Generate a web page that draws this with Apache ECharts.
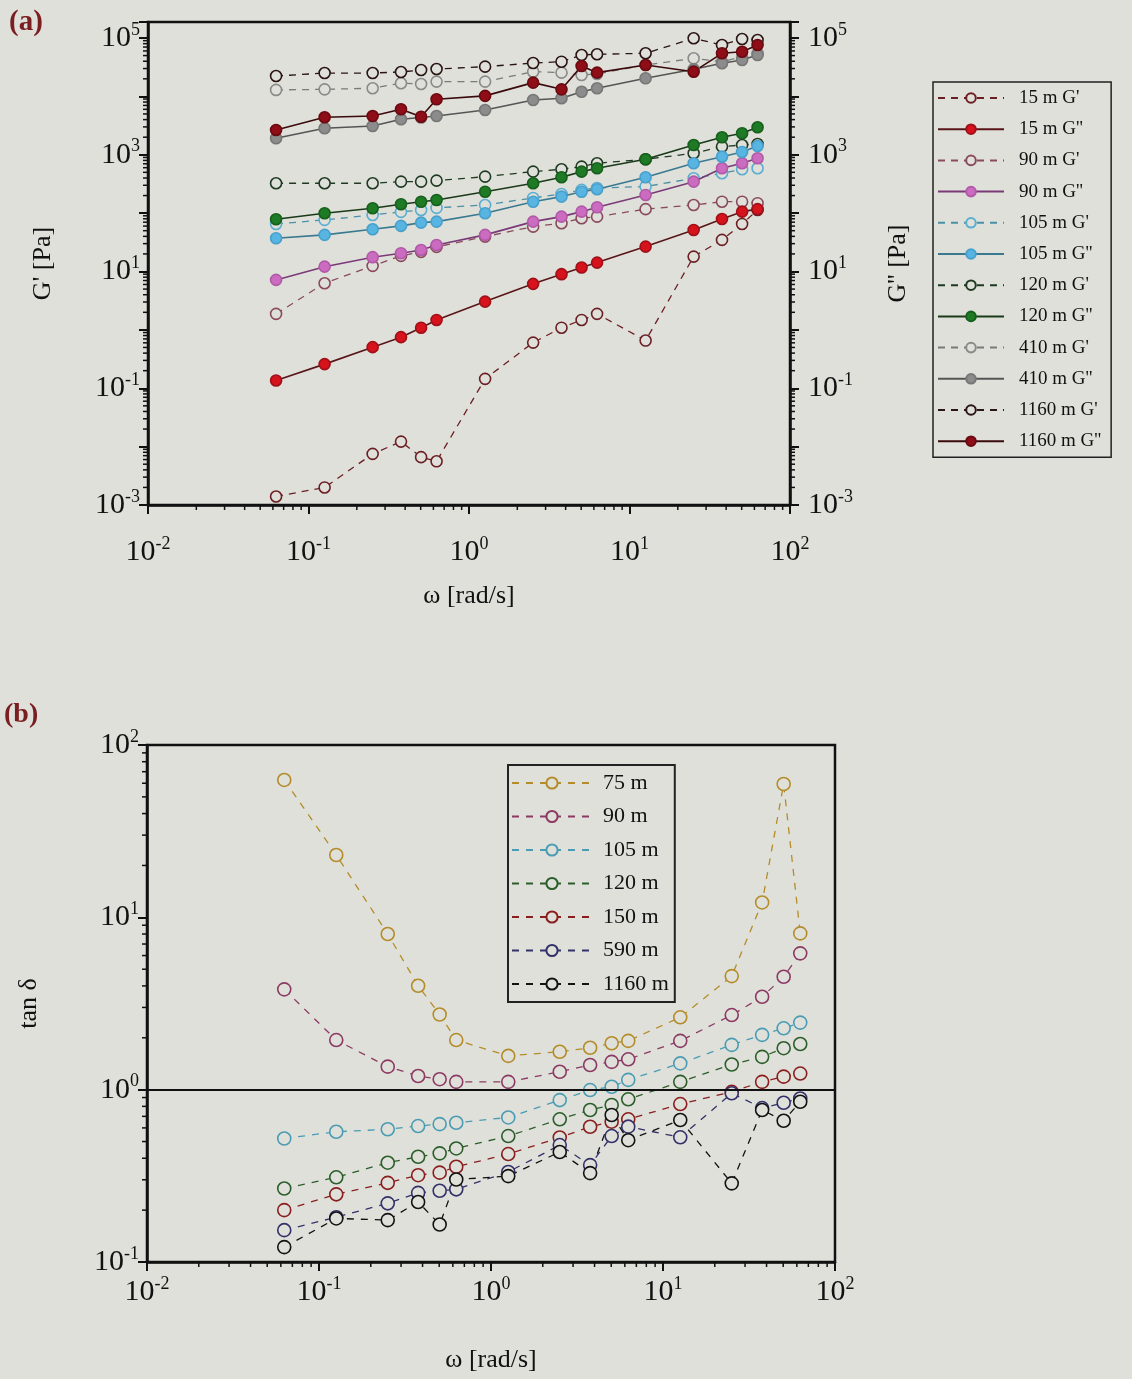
<!DOCTYPE html>
<html><head><meta charset="utf-8">
<script src="https://cdn.jsdelivr.net/npm/echarts@6/dist/echarts.min.js"></script>
<style>html,body{margin:0;padding:0;background:#dfe0d9}#c{width:1132px;height:1379px}</style>
</head><body><div id="c"></div>
<script>
// ---------- data ----------
const omega = [0.0628, 0.126, 0.251, 0.377, 0.503, 0.628, 1.26, 2.51, 3.77, 5.03, 6.28, 12.6, 25.1, 37.7, 50.3, 62.8];

// panel (a): G' and G'' [Pa]
const g15_Gp    = [0.0014, 0.0020, 0.0075, 0.0122, 0.0066, 0.0056, 0.145, 0.605, 1.09, 1.48, 1.88, 0.656, 18, 34.8, 65.3, 113];
const g15_Gpp   = [0.136, 0.259, 0.506, 0.75, 1.09, 1.48, 3.05, 6.14, 9.0, 11.7, 14.2, 26.7, 51.5, 79.4, 106, 117];
const g90_Gp    = [1.88, 6.3, 12.5, 18.5, 21.7, 26.4, 39.6, 58.7, 67.1, 81.8, 87.1, 117, 138, 157, 157, 148];
const g90_Gpp   = [7.18, 12.1, 17.6, 20.6, 23.4, 28.5, 42.4, 71.5, 87.1, 106, 126, 205, 346, 588, 715, 871];
const g105_Gp   = [65.3, 76.5, 93, 105, 113, 123, 138, 182, 213, 250, 270, 285, 396, 482, 565, 588];
const g105_Gpp  = [37.2, 42.4, 53, 60.4, 68.8, 71.5, 99.6, 157, 192, 233, 257, 412, 715, 927, 1117, 1415];
const g120_Gp   = [325, 325, 325, 346, 346, 360, 422, 514, 565, 625, 715, 837, 1060, 1380, 1470, 1530];
const g120_Gpp  = [78.7, 99.6, 121, 142, 157, 168, 233, 325, 412, 514, 588, 837, 1470, 1995, 2335, 2960];
const g410_Gp   = [12900, 13200, 13800, 16800, 16300, 17900, 17900, 26500, 25500, 23200, 24200, 34500, 44900, 39300, 47900, 54700];
const g410_Gpp  = [1920, 2850, 3110, 4050, 4350, 4620, 5850, 8670, 9270, 12000, 13800, 20400, 29100, 36900, 42000, 51200];
const g1160_Gp  = [22300, 25100, 25100, 26200, 28300, 29400, 32300, 37300, 39300, 51200, 52600, 54700, 98900, 75900, 96100, 92500];
const g1160_Gpp = [2660, 4390, 4620, 6010, 4490, 8910, 10200, 17200, 13200, 33200, 25500, 34500, 26500, 54700, 58200, 75900];

// panel (b): tan delta
const t75   = [62.7, 23.0, 8.0, 4.01, 2.73, 1.94, 1.57, 1.66, 1.75, 1.86, 1.92, 2.63, 4.56, 12.2, 59.4, 8.07];
const t90   = [3.82, 1.94, 1.36, 1.20, 1.15, 1.11, 1.11, 1.27, 1.39, 1.45, 1.50, 1.92, 2.71, 3.46, 4.52, 6.18];
const t105  = [0.521, 0.570, 0.589, 0.615, 0.631, 0.643, 0.690, 0.870, 0.995, 1.04, 1.14, 1.42, 1.82, 2.08, 2.27, 2.45];
const t120  = [0.267, 0.310, 0.377, 0.408, 0.427, 0.456, 0.538, 0.673, 0.762, 0.815, 0.879, 1.11, 1.40, 1.55, 1.74, 1.84];
const t150  = [0.200, 0.247, 0.288, 0.319, 0.330, 0.357, 0.423, 0.528, 0.609, 0.652, 0.673, 0.825, 0.972, 1.11, 1.19, 1.24];
const t590  = [0.153, 0.182, 0.219, 0.252, 0.259, 0.264, 0.333, 0.477, 0.365, 0.538, 0.610, 0.529, 0.953, 0.782, 0.840, 0.889];
const t1160 = [0.122, 0.179, 0.175, 0.223, 0.165, 0.301, 0.315, 0.435, 0.328, 0.713, 0.509, 0.667, 0.286, 0.762, 0.660, 0.851];

const namesA = ["15 m G'", "15 m G''", "90 m G'", "90 m G''", "105 m G'", "105 m G''", "120 m G'", "120 m G''", "410 m G'", "410 m G''", "1160 m G'", "1160 m G''"];
const namesB = ["75 m", "90 m", "105 m", "120 m", "150 m", "590 m", "1160 m"];

// ---------- styling ----------
const BG = '#dfe0d9';
const FONT = '"Liberation Serif", "Times New Roman", serif';
const INK = '#111';
const xMinA = 0.01, xMaxA = 100, yMinA = 0.001, yMaxA = 188000;
const xMinB = 0.01, xMaxB = 100, yMinB = 0.1, yMaxB = 100;

function zip(ys) { return omega.map((w, i) => [w, ys[i]]); }

function powLabel(skipEven) {
  return function (v) {
    const l = Math.log10(v), e = Math.round(l);
    if (Math.abs(l - e) > 1e-6) return '';
    if (skipEven && e % 2 === 0) return '';
    return '{b|10}{s|' + e + '}';
  };
}
const rich = {
  b: { fontFamily: FONT, fontSize: 30, color: INK },
  s: { fontFamily: FONT, fontSize: 18, color: INK, padding: [0, 0, 16, 0] }
};

function minorData(lo, hi, kind, fixed) {
  const out = [];
  for (let k = Math.floor(Math.log10(lo)); k <= Math.ceil(Math.log10(hi)); k++) {
    for (let m = 2; m <= 9; m++) {
      const v = m * Math.pow(10, k);
      if (v > lo && v < hi) out.push(kind === 0 ? [v, fixed, 0] : [fixed, v, kind]);
    }
  }
  return out;
}
function tickRender(params, api) {
  const cs = params.coordSys;
  const kind = api.value(2);
  const p = api.coord([api.value(0), api.value(1)]);
  const L = 5;
  let shape;
  if (kind === 0) shape = { x1: p[0], y1: cs.y + cs.height, x2: p[0], y2: cs.y + cs.height + L };
  else if (kind === 1) shape = { x1: cs.x - L, y1: p[1], x2: cs.x, y2: p[1] };
  else shape = { x1: cs.x + cs.width, y1: p[1], x2: cs.x + cs.width + L, y2: p[1] };
  return { type: 'line', shape: shape, style: { stroke: INK, lineWidth: 1.5 } };
}

// series definitions for panel (a)
const aSpec = [
  [g15_Gp,    false, '#6b1f24', '#6b1f24', null],
  [g15_Gpp,   true,  '#5a1518', '#a01018', '#d6121c'],
  [g90_Gp,    false, '#8a4a5e', '#8a4a5e', null],
  [g90_Gpp,   true,  '#7a3a78', '#b05aa8', '#cc6cc0'],
  [g105_Gp,   false, '#4a90a8', '#5aaed0', null],
  [g105_Gpp,  true,  '#3a7a90', '#48a0cc', '#58b4e0'],
  [g120_Gp,   false, '#1e3a22', '#1e3a22', null],
  [g120_Gpp,  true,  '#1a3a1a', '#16601c', '#1f7a25'],
  [g410_Gp,   false, '#7a7a7a', '#8a8a8a', null],
  [g410_Gpp,  true,  '#555555', '#777777', '#8c8c8c'],
  [g1160_Gp,  false, '#2a1414', '#2a1414', null],
  [g1160_Gpp, true,  '#3a0a0c', '#6a0a10', '#8e0d16']
];
const bSpec = [
  [t75, '#b58c2a'], [t90, '#8c3a64'], [t105, '#4a9cb4'], [t120, '#2b5e2b'],
  [t150, '#8a1e1e'], [t590, '#33306a'], [t1160, '#121212']
];

const series = [];
aSpec.forEach((s, i) => {
  const [ys, filled, lc, bc, fc] = s;
  series.push({
    name: namesA[i], type: 'line', xAxisIndex: 0, yAxisIndex: 0,
    data: zip(ys), symbol: 'circle', symbolSize: 11,
    lineStyle: { color: lc, width: filled ? 1.6 : 1.3, type: filled ? 'solid' : [7, 6] },
    itemStyle: { color: filled ? fc : BG, borderColor: bc, borderWidth: 1.6 },
    z: filled ? 3 : 2
  });
});
bSpec.forEach((s, i) => {
  const [ys, c] = s;
  const ser = {
    name: namesB[i], type: 'line', xAxisIndex: 1, yAxisIndex: 2,
    data: zip(ys), symbol: 'circle', symbolSize: 13,
    lineStyle: { color: c, width: 1.3, type: [7, 7] },
    itemStyle: { color: BG, borderColor: c, borderWidth: 1.6 },
    z: 3
  };
  if (i === 0) {
    ser.markLine = {
      silent: true, symbol: ['none', 'none'], label: { show: false },
      lineStyle: { color: INK, width: 2, type: 'solid' },
      data: [{ yAxis: 1 }]
    };
  }
  series.push(ser);
});
// minor log ticks
series.push({ type: 'custom', xAxisIndex: 0, yAxisIndex: 0, silent: true, clip: false, z: 5,
  renderItem: tickRender,
  data: minorData(xMinA, xMaxA, 0, yMinA).concat(minorData(yMinA, yMaxA, 1, xMinA), minorData(yMinA, yMaxA, 2, xMinA)) });
series.push({ type: 'custom', xAxisIndex: 1, yAxisIndex: 2, silent: true, clip: false, z: 5,
  renderItem: tickRender,
  data: minorData(xMinB, xMaxB, 0, yMinB).concat(minorData(yMinB, yMaxB, 1, xMinB)) });

const axisLine = { show: true, lineStyle: { color: INK, width: 2.5 } };
const axisTick = { show: true, length: 9, lineStyle: { color: INK, width: 2 } };
const nameStyle = { fontFamily: FONT, fontSize: 26, color: INK };

const option = {
  backgroundColor: BG,
  animation: false,
  graphic: [
    { type: 'text', left: 9, top: 8, style: { text: '(a)', font: 'bold 29px ' + FONT, fill: '#7a1e22' } },
    { type: 'text', left: 4, top: 701, style: { text: '(b)', font: 'bold 28px ' + FONT, fill: '#7a1e22' } }
  ],
  grid: [
    { left: 148, top: 22, width: 642, height: 483, show: true, borderColor: INK, borderWidth: 2.5, backgroundColor: 'transparent' },
    { left: 147, top: 745, width: 688, height: 517, show: true, borderColor: INK, borderWidth: 2.5, backgroundColor: 'transparent' }
  ],
  xAxis: [
    { type: 'log', logBase: 10, gridIndex: 0, min: xMinA, max: xMaxA, interval: 1,
      axisLine, axisTick, splitLine: { show: false },
      axisLabel: { formatter: powLabel(false), rich, margin: 30, interval: 0 },
      name: 'ω [rad/s]', nameLocation: 'middle', nameGap: 78, nameTextStyle: nameStyle },
    { type: 'log', logBase: 10, gridIndex: 1, min: xMinB, max: xMaxB, interval: 1,
      axisLine, axisTick, splitLine: { show: false },
      axisLabel: { formatter: powLabel(false), rich, margin: 13, interval: 0 },
      name: 'ω [rad/s]', nameLocation: 'middle', nameGap: 85, nameTextStyle: nameStyle }
  ],
  yAxis: [
    { type: 'log', logBase: 10, gridIndex: 0, min: yMinA, max: yMaxA, interval: 1, position: 'left',
      axisLine, axisTick, splitLine: { show: false },
      axisLabel: { formatter: powLabel(true), rich, margin: 8, interval: 0 },
      name: "G' [Pa]", nameLocation: 'middle', nameRotate: 90, nameGap: 92, nameTextStyle: nameStyle },
    { type: 'log', logBase: 10, gridIndex: 0, min: yMinA, max: yMaxA, interval: 1, position: 'right',
      axisLine, axisTick, splitLine: { show: false },
      axisLabel: { formatter: powLabel(true), rich, margin: 18, interval: 0 },
      name: "G'' [Pa]", nameLocation: 'middle', nameRotate: 90, nameGap: 95, nameTextStyle: nameStyle },
    { type: 'log', logBase: 10, gridIndex: 1, min: yMinB, max: yMaxB, interval: 1, position: 'left',
      axisLine, axisTick, splitLine: { show: false },
      axisLabel: { formatter: powLabel(false), rich, margin: 8, interval: 0 },
      name: 'tan δ', nameLocation: 'middle', nameRotate: 90, nameGap: 105, nameTextStyle: nameStyle }
  ],
  legend: [
    { data: namesA, orient: 'vertical', left: 933, top: 82, itemWidth: 66, itemHeight: 12, itemGap: 11.2,
      padding: [6, 10, 6, 4], borderColor: '#222', borderWidth: 1.5, backgroundColor: BG,
      textStyle: { fontFamily: FONT, fontSize: 19, color: INK, lineHeight: 20, padding: [0, 0, 0, 10] },
      selectedMode: false },
    { data: namesB, orient: 'vertical', left: 508, top: 765, itemWidth: 80, itemHeight: 14, itemGap: 9.5,
      padding: [6, 6, 6, 3], borderColor: '#222', borderWidth: 2, backgroundColor: BG,
      textStyle: { fontFamily: FONT, fontSize: 22, color: INK, lineHeight: 24, padding: [0, 0, 0, 6] },
      selectedMode: false }
  ],
  series
};
const chart = echarts.init(document.getElementById('c'));
chart.setOption(option);
</script></body></html>
